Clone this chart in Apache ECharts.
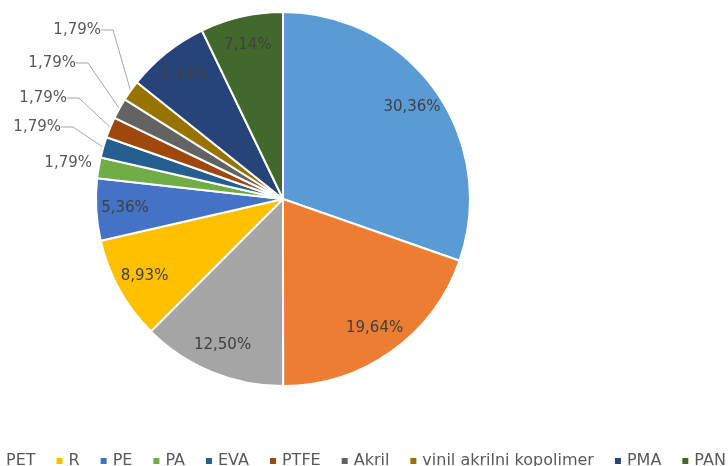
<!DOCTYPE html>
<html><head><meta charset="utf-8">
<script src="https://cdn.jsdelivr.net/npm/echarts@6/dist/echarts.min.js"></script>
<style>html,body{margin:0;padding:0;background:#fff}#c{width:728px;height:466px}</style>
</head><body><div id="c"></div>
<script>
// Data (first two category names are cut off in the reference legend)
const categories = ['Kategorija 1', 'Kategorija 2', 'PET', 'R', 'PE', 'PA', 'EVA', 'PTFE', 'Akril', 'vinil akrilni kopolimer', 'PMA', 'PAN'];
const values = [30.36, 19.64, 12.50, 8.93, 5.36, 1.79, 1.79, 1.79, 1.79, 1.79, 7.14, 7.14];
const colors = ['#5B9BD5', '#ED7D31', '#A5A5A5', '#FFC000', '#4472C4', '#70AD47', '#255E91', '#9E480E', '#636363', '#997300', '#264478', '#43682B'];
const legendItems = ['PET', 'R', 'PE', 'PA', 'EVA', 'PTFE', 'Akril', 'vinil akrilni kopolimer', 'PMA', 'PAN'];
const insideLabel = [true, true, true, true, true, false, false, false, false, false, true, true];

// Layout of the outside labels (right edge x, middle y) and whether they have a leader line
const outsideLabelAnchor = { 5: [92, 163], 6: [61, 127], 7: [67, 98], 8: [76, 63], 9: [101, 30] };
const outsideLeader = { 5: false, 6: true, 7: true, 8: true, 9: true };

const fmt = v => v.toFixed(2).replace('.', ',') + '%';
const center = [283, 199];
const R = 187;
const FONT = 'DejaVu Sans';

const mainData = categories.map((n, i) => ({
  name: n, value: values[i], itemStyle: { color: colors[i] },
  label: { show: !insideLabel[i] }, labelLine: { show: !insideLabel[i] && !!outsideLeader[i] }
}));
const overlayData = categories.map((n, i) => ({
  name: n, value: values[i], label: { show: insideLabel[i] }
}));

const chart = echarts.init(document.getElementById('c'), null, { renderer: 'canvas' });
chart.setOption({
  animation: false,
  legend: {
    data: legendItems, left: -13, top: 448, width: 1000, orient: 'horizontal',
    itemWidth: 8, itemHeight: 8, icon: 'rect', itemGap: 19, selectedMode: false,
    textStyle: { color: '#595959', fontSize: 16, fontFamily: FONT }
  },
  series: [
    {
      type: 'pie', center: center, radius: R, startAngle: 90, clockwise: true,
      data: mainData, avoidLabelOverlap: false,
      itemStyle: { borderColor: '#ffffff', borderWidth: 2 },
      label: { position: 'outside', width: 60, formatter: p => fmt(p.value), color: '#595959', fontSize: 15, fontFamily: FONT },
      labelLine: { length: 20, length2: 12, minTurnAngle: 0, lineStyle: { color: '#A6A6A6', width: 1 } },
      labelLayout: function (params) {
        const a = outsideLabelAnchor[params.dataIndex];
        if (!a) return {};
        return { x: a[0], y: a[1], align: 'right', verticalAlign: 'middle' };
      }
    },
    {
      type: 'pie', center: center, radius: [R * 0.66, R], startAngle: 90, clockwise: true,
      data: overlayData, silent: true,
      itemStyle: { color: 'rgba(0,0,0,0)' },
      label: { position: 'inside', formatter: p => fmt(p.value), color: '#404040', fontSize: 15, fontFamily: FONT },
      labelLine: { show: false }
    }
  ]
});
</script></body></html>
